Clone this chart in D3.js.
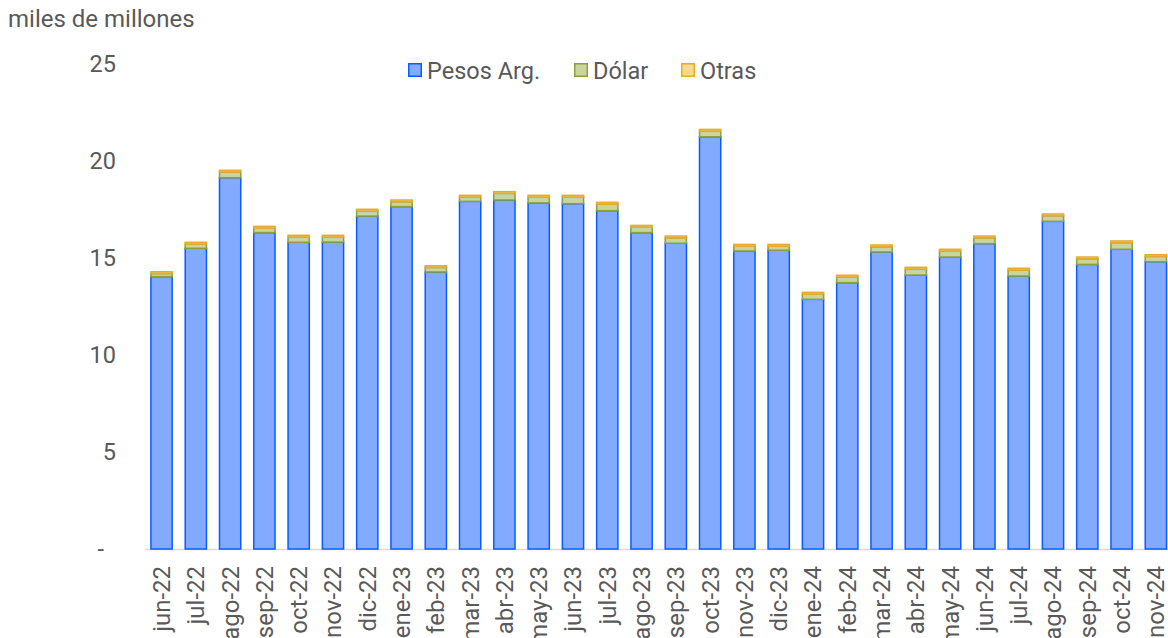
<!DOCTYPE html>
<html><head><meta charset="utf-8">
<script src="https://cdn.jsdelivr.net/npm/d3@7"></script>
<style>body{margin:0;background:#fff;}svg{display:block;font-family:Roboto,"Noto Sans",sans-serif;}</style>
</head><body>
<svg id="chart" width="1168" height="638"></svg>
<script>
const categories = ["jun-22","jul-22","ago-22","sep-22","oct-22","nov-22","dic-22","ene-23","feb-23","mar-23","abr-23","may-23","jun-23","jul-23","ago-23","sep-23","oct-23","nov-23","dic-23","ene-24","feb-24","mar-24","abr-24","may-24","jun-24","jul-24","ago-24","sep-24","oct-24","nov-24"];
const pesos = [14.04,15.50,19.14,16.31,15.81,15.82,17.16,17.65,14.28,17.92,17.99,17.84,17.80,17.44,16.31,15.76,21.25,15.36,15.40,12.87,13.73,15.31,14.12,15.05,15.74,14.07,16.89,14.67,15.45,14.81];
const dolar = [0.16,0.22,0.29,0.23,0.27,0.26,0.26,0.25,0.23,0.22,0.34,0.30,0.34,0.34,0.28,0.28,0.29,0.25,0.21,0.27,0.29,0.27,0.31,0.31,0.30,0.31,0.29,0.29,0.34,0.27];
const otras = [0.09,0.09,0.09,0.09,0.09,0.09,0.09,0.09,0.09,0.09,0.09,0.09,0.09,0.09,0.09,0.09,0.09,0.09,0.09,0.09,0.09,0.09,0.09,0.09,0.09,0.09,0.09,0.09,0.09,0.09];
const seriesNames = ["Pesos Arg.","Dólar","Otras"];
const yTicks = [0,5,10,15,20,25];
const unitLabel = "miles de millones";

const fills = ["#82aaff","#c8d59f","#f8d98d"];
const strokes = ["#0a5cff","#8da03d","#e8a92e"];

const svg = d3.select("#chart");
const x = d3.scaleBand().domain(categories).range([144.4,1173]).paddingInner(0.38).paddingOuter(0.19);
const y = d3.scaleLinear().domain([0,25]).range([549,64]);

const rows = categories.map((c,i)=>({cat:c, "Pesos Arg.":pesos[i], "Dólar":dolar[i], "Otras":otras[i]}));
const stacked = d3.stack().keys(seriesNames)(rows);

// axis line
svg.append("line").attr("x1",145).attr("x2",1168).attr("y1",y(0)+0.5).attr("y2",y(0)+0.5)
  .attr("stroke","#d9d9d9").attr("stroke-width",1.5);

stacked.forEach((s,si)=>{
  svg.append("g").selectAll("rect").data(s).join("rect")
    .attr("x",d=>x(d.data.cat))
    .attr("width",x.bandwidth())
    .attr("y",d=>y(d[1]))
    .attr("height",d=>Math.max(0,y(d[0])-y(d[1])))
    .attr("fill",fills[si]).attr("stroke",strokes[si]).attr("stroke-width",1.5);
});

// y axis
const yAxis = d3.axisLeft(y).tickValues(yTicks).tickSize(0).tickPadding(0)
  .tickFormat(d=>d===0?"-":d3.format("d")(d));
const gy = svg.append("g").attr("transform","translate(116,0)").call(yAxis);
gy.select(".domain").remove();
gy.selectAll("text").attr("fill","#595959").attr("font-size",23.5).attr("font-family","Roboto")
  .attr("dx",d=>d===0?-12:0);

// x axis
const xAxis = d3.axisBottom(x).tickSize(0).tickPadding(0);
const gx = svg.append("g").attr("transform",`translate(0,${y(0)})`).call(xAxis);
gx.select(".domain").remove();
gx.selectAll("text").attr("fill","#595959").attr("font-size",24).attr("font-family","Roboto")
  .attr("text-anchor","end").attr("transform","rotate(-90)")
  .attr("x",-17).attr("y",0).attr("dy","0.35em");

// unit label
svg.append("text").attr("x",8).attr("y",27).text(unitLabel)
  .attr("fill","#595959").attr("font-size",24);

// legend
const legX = [408,574,681];
const leg = svg.append("g");
seriesNames.forEach((n,i)=>{
  leg.append("rect").attr("x",legX[i]+0.75).attr("y",63.75).attr("width",12.5).attr("height",12.5)
    .attr("fill",fills[i]).attr("stroke",strokes[i]).attr("stroke-width",1.5);
  leg.append("text").attr("x",legX[i]+19).attr("y",78.5).text(n)
    .attr("fill","#595959").attr("font-size",23.5);
});
</script>
</body></html>
